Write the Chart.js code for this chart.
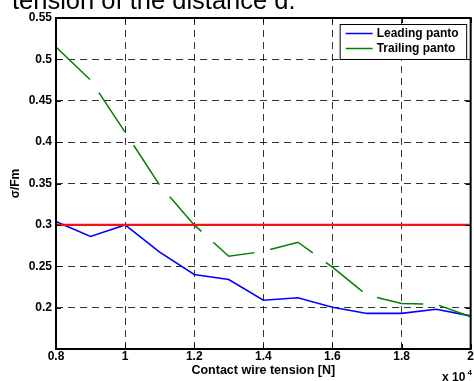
<!DOCTYPE html>
<html>
<head>
<meta charset="utf-8">
<script src="https://cdn.jsdelivr.net/npm/chart.js@4.4.1/dist/chart.umd.min.js"></script>
<style>
  html, body { margin: 0; padding: 0; background: #fff; overflow: hidden; }
  #wrap { width: 474px; height: 381px; position: relative; }
</style>
</head>
<body>
<div id="wrap"><canvas id="c" width="474" height="381"></canvas></div>
<script>
// Contact wire tension (x 10^4 N)
const tension = [0.8, 0.9, 1.0, 1.1, 1.2, 1.3, 1.4, 1.5, 1.6, 1.7, 1.8, 1.9, 2.0];
// Normalised standard deviation of the contact force, sigma / Fm
const leadingPanto  = [0.304, 0.286, 0.300, 0.267, 0.240, 0.234, 0.209, 0.212, 0.2005, 0.193, 0.193, 0.198, 0.190];
const trailingPanto = [0.515, 0.475, 0.412, 0.348, 0.300, 0.262, 0.268, 0.279, 0.249, 0.215, 0.205, 0.204, 0.189];
// Limit level
const limitX = [0.8, 2.0];
const limitY = [0.3, 0.3];

const xTicks = [0.8, 1.0, 1.2, 1.4, 1.6, 1.8, 2.0];
const xTickLabels = ['0.8', '1', '1.2', '1.4', '1.6', '1.8', '2'];
const yTicks = [0.2, 0.25, 0.3, 0.35, 0.4, 0.45, 0.5, 0.55];
const yTickLabels = ['0.2', '0.25', '0.3', '0.35', '0.4', '0.45', '0.5', '0.55'];

const titleText = 'tension of the distance d.';
const xTitle = 'Contact wire tension [N]';
const yTitle = '\u03c3/Fm';

const FONT = '"Liberation Sans", Arial, Helvetica, sans-serif';
Chart.defaults.font.family = FONT;
Chart.defaults.font.size = 12;
Chart.defaults.font.weight = 'bold';
Chart.defaults.color = '#000';

const pts = (xs, ys) => xs.map((x, i) => ({ x: x, y: ys[i] }));

// Axes box with inward tick marks
const frame = {
  id: 'frame',
  afterDatasetsDraw(chart) {
    const { ctx, chartArea: a, scales: { x, y } } = chart;
    ctx.save();
    ctx.strokeStyle = '#000';
    ctx.lineWidth = 1;
    ctx.beginPath();
    xTicks.forEach(v => {
      const px = Math.round(x.getPixelForValue(v)) + 0.5;
      ctx.moveTo(px, a.bottom); ctx.lineTo(px, a.bottom - 5);
      ctx.moveTo(px, a.top); ctx.lineTo(px, a.top + 5);
    });
    yTicks.forEach(v => {
      const py = Math.round(y.getPixelForValue(v)) + 0.5;
      ctx.moveTo(a.left, py); ctx.lineTo(a.left + 5, py);
      ctx.moveTo(a.right, py); ctx.lineTo(a.right - 5, py);
    });
    ctx.stroke();
    ctx.lineWidth = 2;
    ctx.strokeRect(a.left, a.top, a.right - a.left, a.bottom - a.top);
    ctx.restore();
  }
};

// Boxed legend in the upper-right corner of the plot
const boxLegend = {
  id: 'boxLegend',
  afterDraw(chart) {
    const { ctx, chartArea: a } = chart;
    const items = chart.data.datasets.filter(d => d.inLegend !== false);
    const right = a.right - 3.5, top = a.top + 6;
    const w = 127.5, rowH = 15, h = 36;
    const left = right - w;
    ctx.save();
    ctx.fillStyle = '#fff';
    ctx.fillRect(left, top, w, h);
    ctx.strokeStyle = '#000';
    ctx.lineWidth = 1;
    ctx.strokeRect(left + 0.5, top + 0.5, w - 1, h - 1);
    ctx.font = 'bold 12px ' + FONT;
    ctx.textBaseline = 'middle';
    ctx.textAlign = 'left';
    items.forEach((d, i) => {
      const cy = top + 9.5 + i * rowH;
      ctx.strokeStyle = d.borderColor;
      ctx.lineWidth = 1.5;
      ctx.beginPath();
      ctx.moveTo(left + 6, cy); ctx.lineTo(left + 33, cy);
      ctx.stroke();
      ctx.fillStyle = '#000';
      ctx.fillText(d.label, left + 37, cy + 0.5);
    });
    ctx.restore();
  }
};

// Heading and the x-axis multiplier
const extras = {
  id: 'extras',
  afterDraw(chart) {
    const { ctx } = chart;
    ctx.save();
    ctx.fillStyle = '#000';
    ctx.textBaseline = 'alphabetic';
    ctx.textAlign = 'left';
    ctx.font = '25.5px ' + FONT;
    ctx.fillText(titleText, 12, 8.5);
    ctx.font = 'bold 12px ' + FONT;
    ctx.fillText('x 10', 442, 381);
    ctx.font = 'bold 8px ' + FONT;
    ctx.fillText('4', 467.5, 375);
    ctx.restore();
  }
};

new Chart(document.getElementById('c'), {
  type: 'line',
  data: {
    datasets: [
      {
        label: 'Limit',
        inLegend: false,
        data: pts(limitX, limitY),
        borderColor: 'rgb(240,20,20)',
        borderWidth: 2.2,
        pointRadius: 0,
        order: 0
      },
      {
        label: 'Leading panto',
        data: pts(tension, leadingPanto),
        borderColor: '#0000ff',
        borderWidth: 1.6,
        pointRadius: 0,
        tension: 0,
        order: 2
      },
      {
        label: 'Trailing panto',
        data: pts(tension, trailingPanto),
        borderColor: '#008000',
        borderWidth: 1.5,
        borderDash: [47, 16],
        pointRadius: 0,
        tension: 0,
        order: 1
      }
    ]
  },
  options: {
    responsive: false,
    devicePixelRatio: 1,
    animation: false,
    events: [],
    layout: { padding: { top: 18, right: 3, left: 0, bottom: 0 } },
    plugins: {
      legend: { display: false },
      tooltip: { enabled: false },
      title: { display: false }
    },
    scales: {
      x: {
        type: 'linear',
        min: 0.8,
        max: 2.0,
        afterBuildTicks: s => { s.ticks = xTicks.map(v => ({ value: v })); },
        afterFit: s => { s.height = 32; },
        ticks: {
          padding: 0,
          maxRotation: 0,
          autoSkip: false,
          callback: (v, i) => xTickLabels[i]
        },
        grid: { color: 'rgba(0,0,0,0.8)', lineWidth: 1, drawTicks: false },
        border: { display: false, dash: [7, 5] },
        title: {
          display: true,
          text: xTitle,
          font: { size: 12.5, weight: 'bold' },
          padding: { top: 0, bottom: 3.2 }
        }
      },
      y: {
        type: 'linear',
        min: 0.15,
        max: 0.55,
        afterBuildTicks: s => { s.ticks = yTicks.map(v => ({ value: v })); },
        afterFit: s => { s.width = 56; },
        ticks: {
          padding: 4,
          autoSkip: false,
          callback: (v, i) => yTickLabels[i]
        },
        grid: { color: 'rgba(0,0,0,0.8)', lineWidth: 1, drawTicks: false },
        border: { display: false, dash: [7, 5] },
        title: {
          display: true,
          text: yTitle,
          font: { size: 12, weight: 'bold' },
          padding: { top: 8.5, bottom: 0 }
        }
      }
    }
  },
  plugins: [frame, boxLegend, extras]
});
</script>
</body>
</html>
